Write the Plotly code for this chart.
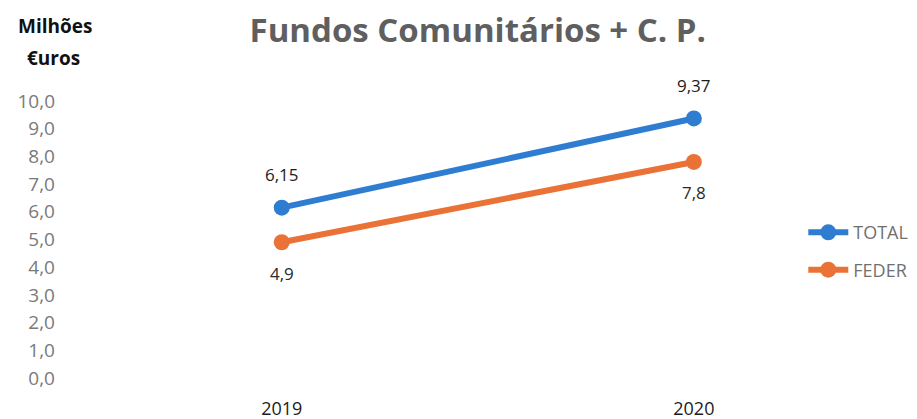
import plotly.graph_objects as go

years = [2019, 2020]
total = [6.15, 9.37]
feder = [4.9, 7.8]
y_ticks = [0, 1, 2, 3, 4, 5, 6, 7, 8, 9, 10]

colors = {'total': '#2F7DD1', 'feder': '#EA7236'}
FONT = 'Open Sans, Noto Sans, sans-serif'


def fmt(v):
    return f"{v:g}".replace('.', ',')


fig = go.Figure()

fig.add_trace(go.Scatter(
    x=years, y=total, mode='lines+markers', name='TOTAL', legendgroup='t',
    line=dict(color=colors['total'], width=6),
    marker=dict(size=16, color=colors['total'])
))
fig.add_trace(go.Scatter(
    x=years, y=feder, mode='lines+markers', name='FEDER', legendgroup='f',
    line=dict(color=colors['feder'], width=6),
    marker=dict(size=16, color=colors['feder'])
))

# data labels: TOTAL above, FEDER below
for x, v in zip(years, total):
    fig.add_annotation(x=x, y=v, text=fmt(v), showarrow=False, yshift=33,
                       font=dict(size=17, color='#1c1c1c', family=FONT))
for x, v in zip(years, feder):
    fig.add_annotation(x=x, y=v, text=fmt(v), showarrow=False, yshift=-31,
                       font=dict(size=17, color='#2a2a2a', family=FONT))

# unit label top left
fig.add_annotation(text='<b>Milhões</b>', xref='paper', yref='paper', x=-0.070, y=1.270,
                   xanchor='center', yanchor='middle', showarrow=False,
                   font=dict(size=19, color='#111111'))
fig.add_annotation(text='<b>€uros</b>', xref='paper', yref='paper', x=-0.072, y=1.155,
                   xanchor='center', yanchor='middle', showarrow=False,
                   font=dict(size=19, color='#111111'))

fig.update_layout(
    title=dict(text='<b>Fundos Comunitários + C. P.</b>', x=0.521, xanchor='center',
               y=0.927, yanchor='middle', font=dict(size=33, color='#5f5f5f')),
    width=917, height=419,
    margin=dict(l=100, r=177, t=101, b=41),
    plot_bgcolor='white', paper_bgcolor='white',
    font=dict(family=FONT),
    separators=',.',
    showlegend=True,
    legend=dict(xref='container', yref='container', x=0.876, y=0.489,
                xanchor='left', yanchor='top',
                font=dict(size=18, color='#707070'), itemwidth=40,
                traceorder='grouped', tracegroupgap=11,
                bgcolor='rgba(0,0,0,0)'),
    xaxis=dict(range=[2018.559, 2020.112], tickvals=years,
               ticktext=[str(y) for y in years], showgrid=False,
               zeroline=False, showline=False, ticklabelstandoff=18,
               automargin=False,
               tickfont=dict(size=18, color='#1c1c1c')),
    yaxis=dict(range=[0, 10], tickvals=y_ticks, tickformat='.1f',
               showgrid=False, zeroline=False, showline=False,
               ticklabelstandoff=44, automargin=False,
               tickfont=dict(size=19, color='#7a7a7a')),
)

fig.write_html("out.html", config={'displayModeBar': False},
               post_script="document.body.style.margin='0';")
